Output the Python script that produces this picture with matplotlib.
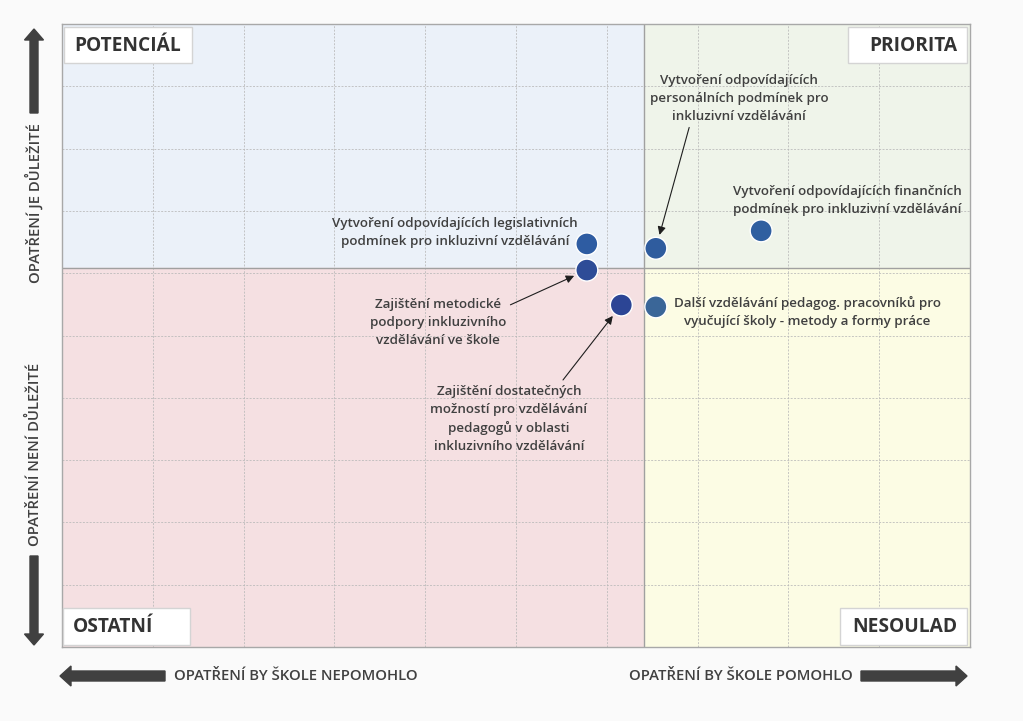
import matplotlib
matplotlib.use("Agg")
import matplotlib.pyplot as plt
from matplotlib.patches import Rectangle, FancyArrow

plt.rcParams['font.family'] = ['Open Sans', 'DejaVu Sans']

# opatření (measures) and their position in the matrix
labels = [
    "Vytvoření odpovídajících legislativních\npodmínek pro inkluzivní vzdělávání",
    "Zajištění metodické\npodpory inkluzivního\nvzdělávání ve škole",
    "Zajištění dostatečných\nmožností pro vzdělávání\npedagogů v oblasti\ninkluzivního vzdělávání",
    "Vytvoření odpovídajících\npersonálních podmínek pro\ninkluzivní vzdělávání",
    "Další vzdělávání pedagog. pracovníků pro\nvyučující školy - metody a formy práce",
    "Vytvoření odpovídajících finančních\npodmínek pro inkluzivní vzdělávání",
]
pomoc = [5.78, 5.78, 6.16, 6.54, 6.54, 7.70]       # x: would help the school
dulezitost = [6.47, 6.05, 5.49, 6.40, 5.46, 6.68]  # y: importance
dot_colors = ['#2E5CA2', '#2E4C97', '#2C4595', '#2F5C9E', '#3A6698', '#2F5FA0']

x_split = 6.41
y_split = 6.08

quadrants = ["POTENCIÁL", "PRIORITA", "OSTATNÍ", "NESOULAD"]

fig = plt.figure(figsize=(10.23, 7.21), dpi=100, facecolor='#FAFAFA')
ax = fig.add_axes([62 / 1023, 74 / 721, 908 / 1023, 623 / 721])
ax.set_xlim(0, 10)
ax.set_ylim(0, 10)

# quadrant backgrounds
ax.add_patch(Rectangle((0, y_split), x_split, 10 - y_split, color='#EBF1F9', zorder=0))
ax.add_patch(Rectangle((x_split, y_split), 10 - x_split, 10 - y_split, color='#EFF4EA', zorder=0))
ax.add_patch(Rectangle((0, 0), x_split, y_split, color='#F5E0E2', zorder=0))
ax.add_patch(Rectangle((x_split, 0), 10 - x_split, y_split, color='#FCFCE4', zorder=0))

ax.set_xticks(range(0, 11))
ax.set_yticks(range(0, 11))
ax.grid(True, color='#B8B8B8', linestyle=(0, (2, 1.5)), linewidth=0.7, alpha=0.8, zorder=1)
ax.tick_params(length=0, labelleft=False, labelbottom=False)
for s in ax.spines.values():
    s.set_color('#A8A8A8')
    s.set_linewidth(1.0)
ax.axvline(x_split, color='#A0A0A0', linewidth=1.0, zorder=2)
ax.axhline(y_split, color='#A0A0A0', linewidth=1.0, zorder=2)

ax.scatter(pomoc, dulezitost, s=250, c=dot_colors, edgecolors='white', linewidths=1.0, zorder=5)

# text offsets (points) and arrow tails (points) relative to each dot
txt_off = [(-95, 8), (-107, -38), (-81, -82), (60, 108), (109, -4), (62, 22)]
arrow_tail = [None, (-55, -25), (-42, -54), (24, 87), None, None]
for i, lab in enumerate(labels):
    ax.annotate(lab, (pomoc[i], dulezitost[i]), xytext=txt_off[i], textcoords='offset points',
                ha='center', va='center', fontsize=9.6, fontweight='semibold', color='#404040',
                linespacing=1.5, zorder=6)
    if arrow_tail[i] is not None:
        ax.annotate('', (pomoc[i], dulezitost[i]), xytext=arrow_tail[i], textcoords='offset points',
                    arrowprops=dict(arrowstyle='-|>', color='#1E1E1E', lw=0.8,
                                    mutation_scale=12, shrinkA=0, shrinkB=10), zorder=6)

# overlay in pixel coordinates for boxes, axis arrows and axis texts
ov = fig.add_axes([0, 0, 1, 1], zorder=10)
ov.set_xlim(0, 1023)
ov.set_ylim(721, 0)
ov.axis('off')
ov.patch.set_alpha(0)

boxes = [(64, 27, 128, 36, 'left'), (848, 27, 119, 36, 'right'),
         (63, 608, 127, 37, 'left'), (840, 608, 127, 37, 'right')]
for name, (bx, by, bw, bh, al) in zip(quadrants, boxes):
    ov.add_patch(Rectangle((bx, by), bw, bh, facecolor='white', edgecolor='#D4D4D4', lw=1.0))
    tx = bx + 10 if al == 'left' else bx + bw - 10
    ov.text(tx, by + bh / 2 + 1, name, ha=al, va='center', fontsize=13.8,
            fontweight='bold', color='#333333')

arrow_col = '#404040'
ov.add_patch(FancyArrow(34, 113, 0, -84, width=8, head_width=19, head_length=11,
                        length_includes_head=True, color=arrow_col))
ov.add_patch(FancyArrow(34, 556, 0, 89, width=8, head_width=19, head_length=11,
                        length_includes_head=True, color=arrow_col))
ov.add_patch(FancyArrow(165, 676, -105, 0, width=10, head_width=20, head_length=11,
                        length_includes_head=True, color=arrow_col))
ov.add_patch(FancyArrow(861, 676, 106, 0, width=10, head_width=20, head_length=11,
                        length_includes_head=True, color=arrow_col))

ax_font = dict(fontsize=10.7, fontweight='semibold', color='#404040')
ov.text(34, 203, "OPATŘENÍ JE DŮLEŽITÉ", rotation=90, ha='center', va='center', **ax_font)
ov.text(34, 454, "OPATŘENÍ NENÍ DŮLEŽITÉ", rotation=90, ha='center', va='center', **ax_font)
ov.text(296, 676, "OPATŘENÍ BY ŠKOLE NEPOMOHLO", ha='center', va='center', **ax_font)
ov.text(741, 676, "OPATŘENÍ BY ŠKOLE POMOHLO", ha='center', va='center', **ax_font)

fig.savefig('out.png', dpi=100, facecolor=fig.get_facecolor())
